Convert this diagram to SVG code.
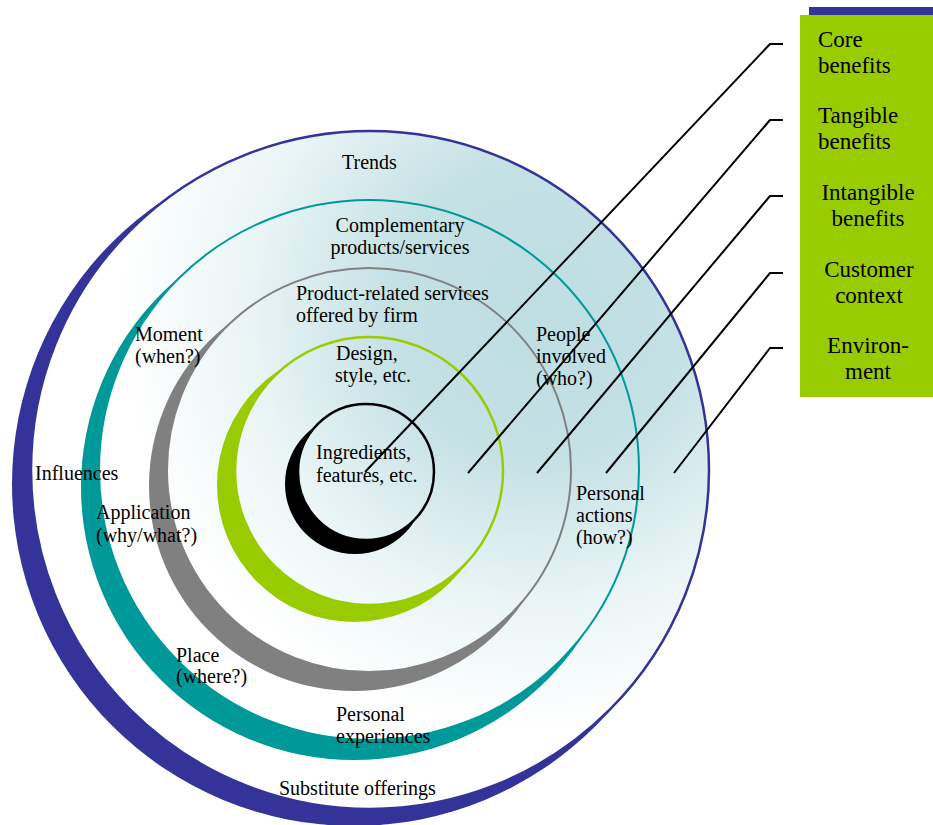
<svg xmlns="http://www.w3.org/2000/svg" width="933" height="825" viewBox="0 0 933 825">
<defs>
<radialGradient id="bg" gradientUnits="userSpaceOnUse" cx="540" cy="310" r="420">
<stop offset="0" stop-color="#BEDEE1"/>
<stop offset="0.35" stop-color="#C4E1E4"/>
<stop offset="0.7" stop-color="#EAF5F6"/>
<stop offset="1" stop-color="#FFFFFF"/>
</radialGradient>
<style>
.t{font-family:"Liberation Serif","Times New Roman",serif;font-size:20px;fill:#000}
.b{font-family:"Liberation Serif","Times New Roman",serif;font-size:23px;fill:#000}
.m{text-anchor:middle}
.main{fill:url(#bg)}
.con{fill:none;stroke:#000;stroke-width:2;stroke-linejoin:round}
</style>
</defs>
<rect width="933" height="825" fill="#FFFFFF"/>
<g id="ring-environment">
<circle cx="354" cy="484" r="342" fill="#333399"/>
<circle class="main" cx="370" cy="470" r="339" stroke="#333399" stroke-width="2.5"/>
</g>
<g id="ring-customer-context">
<circle cx="354" cy="487" r="273" fill="#009999"/>
<circle class="main" cx="369" cy="470" r="270" stroke="#009999" stroke-width="2"/>
</g>
<g id="ring-intangible">
<circle cx="354" cy="486" r="205" fill="#808080"/>
<circle class="main" cx="369" cy="470" r="202" stroke="#808080" stroke-width="2"/>
</g>
<g id="ring-tangible">
<circle cx="354" cy="485" r="137" fill="#99CC00"/>
<circle class="main" cx="369" cy="471" r="134" stroke="#99CC00" stroke-width="2.5"/>
</g>
<g id="ring-core">
<circle cx="355" cy="484" r="70" fill="#000000"/>
<circle class="main" cx="366" cy="472" r="68" stroke="#000000" stroke-width="2.5"/>
</g>
<g id="labels">
<text class="t" x="342" y="169">Trends</text>
<text class="t m" x="400" y="232">Complementary</text>
<text class="t m" x="400" y="254">products/services</text>
<text class="t" x="296" y="300">Product-related services</text>
<text class="t" x="296" y="322">offered by firm</text>
<text class="t" x="135" y="341">Moment</text>
<text class="t" x="135" y="363">(when?)</text>
<text class="t" x="336" y="360">Design,</text>
<text class="t" x="335" y="382">style, etc.</text>
<text class="t" x="536" y="341">People</text>
<text class="t" x="536" y="363">involved</text>
<text class="t" x="536" y="385">(who?)</text>
<text class="t" x="316" y="459">Ingredients,</text>
<text class="t" x="316" y="482">features, etc.</text>
<text class="t" x="35" y="480">Influences</text>
<text class="t" x="96" y="519">Application</text>
<text class="t" x="96" y="542">(why/what?)</text>
<text class="t" x="576" y="500">Personal</text>
<text class="t" x="576" y="522">actions</text>
<text class="t" x="576" y="544">(how?)</text>
<text class="t" x="176" y="662">Place</text>
<text class="t" x="176" y="683">(where?)</text>
<text class="t" x="336" y="721">Personal</text>
<text class="t" x="336" y="743">experiences</text>
<text class="t" x="279" y="795">Substitute offerings</text>
</g>
<g id="connectors">
<polyline class="con" points="365,472 770,44 783,44"/>
<polyline class="con" points="468,473 770,120 783,120"/>
<polyline class="con" points="537,473 770,196 783,196"/>
<polyline class="con" points="606,473 770,273 783,273"/>
<polyline class="con" points="674,473 770,348 783,348"/>
</g>
<g id="legend">
<rect x="809" y="7" width="124" height="9" fill="#333399"/>
<rect x="800" y="15" width="133" height="382" fill="#99CC00"/>
<text class="b" x="818" y="47">Core</text>
<text class="b" x="818" y="73">benefits</text>
<text class="b" x="818" y="123">Tangible</text>
<text class="b" x="818" y="149">benefits</text>
<text class="b m" x="868" y="200">Intangible</text>
<text class="b m" x="868" y="226">benefits</text>
<text class="b m" x="869" y="277">Customer</text>
<text class="b m" x="869" y="303">context</text>
<text class="b m" x="868" y="353">Environ-</text>
<text class="b m" x="868" y="379">ment</text>
</g>
</svg>
